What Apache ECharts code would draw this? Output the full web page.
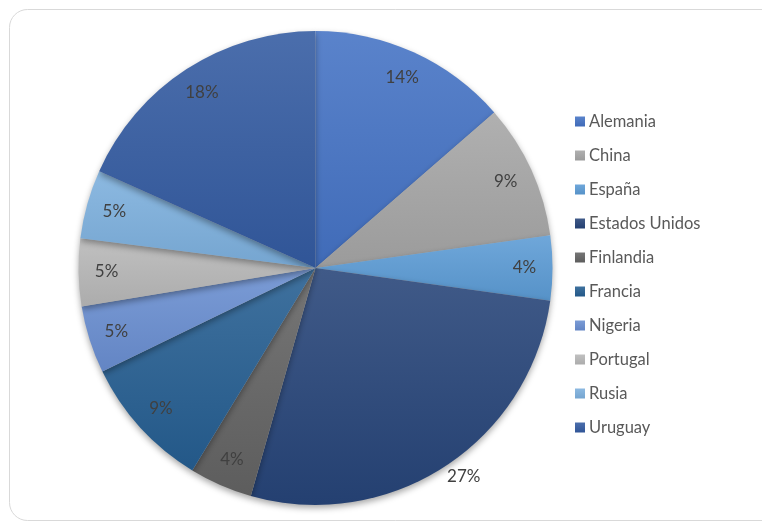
<!DOCTYPE html>
<html>
<head>
<meta charset="utf-8">
<style>
  html, body { margin: 0; padding: 0; background: #ffffff; }
  #chart { width: 762px; height: 523px; }
</style>
<script src="https://cdn.jsdelivr.net/npm/echarts@6/dist/echarts.min.js"></script>
</head>
<body>
<div id="chart"></div>
<script>
// Share of entries by country
const countries = ['Alemania', 'China', 'España', 'Estados Unidos', 'Finlandia',
                   'Francia', 'Nigeria', 'Portugal', 'Rusia', 'Uruguay'];
const shares = [13.6, 9.2, 4.4, 27.2, 4.3, 9.1, 4.6, 4.6, 4.7, 18.3];
const sliceColors = ['#4472C4', '#A5A5A5', '#5B9BD5', '#264478', '#636363',
                     '#255E91', '#698ED0', '#B7B7B7', '#7CAFDD', '#335AA1'];

function shade(hex, amt) {
  const n = parseInt(hex.slice(1), 16);
  let r = (n >> 16) & 255, g = (n >> 8) & 255, b = n & 255;
  const f = c => Math.max(0, Math.min(255, Math.round(amt >= 0 ? c + (255 - c) * amt : c * (1 + amt))));
  return 'rgb(' + f(r) + ',' + f(g) + ',' + f(b) + ')';
}

function fill(hex) {
  return new echarts.graphic.LinearGradient(0, 0, 0, 1, [
    { offset: 0, color: shade(hex, 0.12) },
    { offset: 1, color: shade(hex, -0.06) }
  ]);
}

const sliceData = countries.map((name, i) => ({
  name: name,
  value: shares[i],
  itemStyle: { color: fill(sliceColors[i]) }
}));

// percentage labels sit inside the slices, except the largest one which sits just outside
const labelData = countries.map((name, i) => {
  const item = { name: name, value: shares[i] };
  if (name === 'Estados Unidos') item.label = { offset: [34, 33] };
  return item;
});

const chart = echarts.init(document.getElementById('chart'), null, { renderer: 'canvas' });

chart.setOption({
  animation: false,
  backgroundColor: '#ffffff',
  graphic: [{
    type: 'rect',
    shape: { x: 9.5, y: 9.5, width: 820, height: 511, r: 18 },
    style: { fill: 'none', stroke: '#d9d9d9', lineWidth: 1 },
    silent: true,
    z: -10
  }],
  legend: {
    orient: 'vertical',
    left: 570,
    top: 108,
    icon: 'rect',
    itemWidth: 10,
    itemHeight: 10,
    itemGap: 17,
    selectedMode: false,
    textStyle: { fontFamily: 'Lato', fontSize: 16.5, color: '#595959', lineHeight: 17, padding: [0, 0, 0, -1] },
    data: countries
  },
  series: [
    {
      type: 'pie',
      center: [315.5, 268],
      radius: [0, 237],
      startAngle: 90,
      clockwise: true,
      silent: true,
      label: { show: false },
      labelLine: { show: false },
      itemStyle: {
        borderWidth: 0,
        shadowBlur: 6,
        shadowOffsetY: 3,
        shadowColor: 'rgba(0,0,0,0.35)'
      },
      data: sliceData
    },
    {
      type: 'pie',
      center: [315.5, 268],
      radius: [0, 412],
      startAngle: 90,
      clockwise: true,
      silent: true,
      legendHoverLink: false,
      itemStyle: { color: 'rgba(0,0,0,0)', borderWidth: 0 },
      label: {
        show: true,
        position: 'inside',
        fontFamily: 'Lato',
        fontSize: 17,
        color: '#404040',
        formatter: p => Math.round(p.percent) + '%'
      },
      labelLine: { show: false },
      z: 5,
      data: labelData
    }
  ]
});
</script>
</body>
</html>
